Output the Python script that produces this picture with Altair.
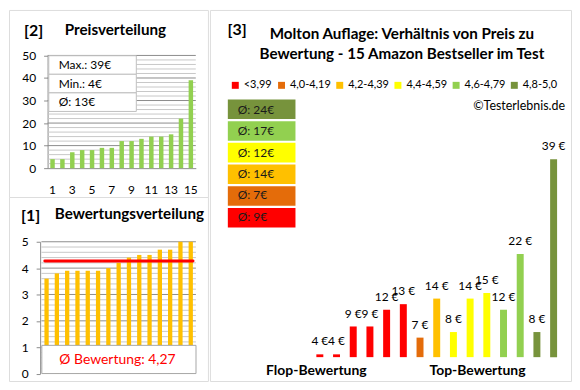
import altair as alt
import pandas as pd
import math

# ---------------- data ----------------
prices = [4, 4, 9, 9, 12, 13, 7, 14, 8, 14, 15, 12, 22, 8, 39]
ratings = [3.6, 3.8, 3.9, 3.9, 3.9, 3.9, 4.0, 4.2, 4.4, 4.5, 4.5, 4.7, 4.7, 5.0, 5.0]
cat_labels = ["<3,99", "4,0-4,19", "4,2-4,39", "4,4-4,59", "4,6-4,79", "4,8-5,0"]
cat_lower = [0.0, 4.0, 4.2, 4.4, 4.6, 4.8]
cat_colors = ["#FF0000", "#E46C0A", "#FFC000", "#FFFF00", "#92D050", "#77933C"]
price_ticks = [0, 10, 20, 30, 40, 50]
price_minor = [v for v in range(0, 51, 2) if v % 10 != 0]
rating_ticks = [0, 1, 2, 3, 4, 5]
rating_minor = [round(i * 0.2, 1) for i in range(26) if i % 5 != 0]
price_x_ticks = [1, 3, 5, 7, 9, 11, 13, 15]
price_base = 3.5

def half_up(v):
    return int(math.floor(v + 0.5))

cats = []
for r in ratings:
    k = max(i for i, lo in enumerate(cat_lower) if r >= lo - 1e-9)
    cats.append(cat_labels[k])

n = len(prices)
idx = list(range(1, n + 1))
df3 = pd.DataFrame({"idx": idx, "price": prices, "cat": cats,
                    "lbl": [f"{p} €" for p in prices]})
df2 = pd.DataFrame({"idx": idx, "price": sorted(prices)})
df1 = pd.DataFrame({"idx": idx, "rating": sorted(ratings)})

avg_txt = []
for c in cat_labels:
    ps = [p for p, cc in zip(prices, cats) if cc == c]
    avg_txt.append(f"Ø: {half_up(sum(ps) / len(ps))}€")
avg_df = pd.DataFrame({"cat": cat_labels, "txt": avg_txt})

stats_df = pd.DataFrame({"row": ["a", "b", "c"],
                         "txt": [f"Max.: {max(prices)}€", f"Min.: {min(prices)}€",
                                 f"Ø: {half_up(sum(prices) / n)}€"]})
mean_rating = sum(ratings) / n
mean_txt = "Ø Bewertung: " + f"{mean_rating:.2f}".replace(".", ",")

# ---------------- style ----------------
FONT = "Lato"
AX = "#8C8C8C"
GMAJ = "#8C8C8C"
GMIN = "#C8C8C8"
W_L, H2, H1, W_R = 200, 188, 185, 363
H3 = H2 + H1
TFS = 15.3


def txt(s, x, y, size=12, weight="normal", align="left", color="#000000"):
    return alt.Chart(pd.DataFrame({"t": [s]})).mark_text(
        align=align, baseline="alphabetic", fontSize=size, fontWeight=weight, color=color
    ).encode(x=alt.value(x), y=alt.value(y), text="t:N")


def grid(values, field, scale, x0, x1, color):
    return alt.Chart(pd.DataFrame({field: values})).mark_rule(color=color, strokeWidth=1).encode(
        y=alt.Y(f"{field}:Q", scale=scale, axis=None), x=alt.value(x0), x2=alt.value(x1))

# ---------------- panel [2] ----------------
X2L, X2R = 38.8, 187.8
sc_y2 = alt.Scale(domain=[0, 50], range=[159, 45.7], nice=False)
x2 = alt.X("idx:O", scale=alt.Scale(range=[X2L, X2R], paddingInner=0, paddingOuter=0),
           axis=alt.Axis(values=price_x_ticks, orient="bottom", offset=159 - H2, labelAngle=0,
                         ticks=False, tickSize=0, labelPadding=21, labelBaseline="middle",
                         labelFontSize=12, labelColor="#000", domainColor=AX, grid=False,
                         title=None, labelOverlap=False))
y2 = alt.Y("price:Q", scale=sc_y2,
           axis=alt.Axis(values=price_ticks, orient="left", offset=-X2L, title=None, grid=False,
                         tickSize=4, tickColor=AX, labelPadding=8, domainColor=AX,
                         labelFontSize=12, labelColor="#000", labelOverlap=False))
bars2 = alt.Chart(df2).mark_bar(size=4.5, color="#92D050").encode(x=x2, y=y2)
stats_y = alt.Y("row:N", sort=None, axis=None,
                scale=alt.Scale(range=[46, 102], paddingInner=0, paddingOuter=0))
box2 = alt.Chart(stats_df).mark_rect(fill="white", stroke="#BFBFBF", strokeWidth=1).encode(
    x=alt.value(40), x2=alt.value(128), y=stats_y)
boxt2 = alt.Chart(stats_df).mark_text(align="left", baseline="middle", fontSize=12,
                                      color="#000").encode(x=alt.value(50), y=stats_y, text="txt:N")
p2 = alt.layer(grid(price_minor, "price", sc_y2, X2L, X2R, GMIN),
               grid(price_ticks[1:], "price", sc_y2, X2L, X2R, GMAJ),
               bars2, box2, boxt2,
               txt("[2]", 15, 26, 16, "bold"),
               txt("Preisverteilung", 56, 25, TFS, "bold")
               ).resolve_scale(y="independent").properties(width=W_L, height=H2)

# ---------------- panel [1] ----------------
X1L, X1R = 32.6, 187.9
sc_y1 = alt.Scale(domain=[0, 5], range=[177.5, 45], nice=False)
x1 = alt.X("idx:O", scale=alt.Scale(range=[X1L, X1R], paddingInner=0, paddingOuter=0), axis=None)
y1 = alt.Y("rating:Q", scale=sc_y1,
           axis=alt.Axis(values=rating_ticks, orient="left", offset=-31.3, title=None, grid=False,
                         tickSize=4, tickColor=AX, labelPadding=8, domainColor=AX,
                         labelFontSize=12, labelColor="#000", labelOverlap=False))
bars1 = alt.Chart(df1).mark_bar(size=4.3, color="#FFC000").encode(x=x1, y=y1)
yq = alt.Y("rating:Q", scale=sc_y1, axis=None)
rule1 = alt.Chart(pd.DataFrame({"rating": [mean_rating]})).mark_rule(
    color="#FF0000", strokeWidth=3, strokeCap="round").encode(
    x=alt.value(36), x2=alt.value(185), y=yq)
box1 = alt.Chart(pd.DataFrame({"rating": [1.07], "r0": [0.0]})).mark_rect(
    fill="white", stroke="#A6A6A6", strokeWidth=1).encode(
    x=alt.value(33), x2=alt.value(188), y=yq, y2="r0:Q")
boxt1 = alt.Chart(pd.DataFrame({"rating": [0.52], "t": [mean_txt]})).mark_text(
    align="center", baseline="middle", fontSize=14, color="#FF0000").encode(
    x=alt.value(109), y=yq, text="t:N")
p1 = alt.layer(grid(rating_minor, "rating", sc_y1, X1L, X1R, GMIN),
               grid(rating_ticks[1:], "rating", sc_y1, X1L, X1R, GMAJ),
               bars1, rule1, box1, boxt1,
               txt("[1]", 12, 24, 16, "bold"),
               txt("Bewertungsverteilung", 46, 22.5, TFS, "bold")
               ).resolve_scale(y="independent").properties(width=W_L, height=H1)

# ---------------- panel [3] ----------------
color_enc = alt.Color("cat:N", scale=alt.Scale(domain=cat_labels, range=cat_colors),
                      legend=alt.Legend(orient="none", legendX=20, legendY=70,
                                        direction="horizontal", title=None,
                                        symbolType="square", symbolSize=49,
                                        symbolStrokeWidth=0, labelFontSize=11,
                                        labelColor="#000", labelOffset=3,
                                        columnPadding=3.5, padding=0))
x3 = alt.X("idx:O", scale=alt.Scale(range=[102.1, 353.9], paddingInner=0, paddingOuter=0), axis=None)
y3 = alt.Y("price:Q", scale=alt.Scale(domain=[price_base, 39], range=[349, 150],
                                      nice=False, zero=False), axis=None)
bars3 = alt.Chart(df3).mark_bar(size=7).encode(x=x3, y=y3, y2=alt.datum(price_base), color=color_enc)
labels3 = alt.Chart(df3).mark_text(baseline="middle", dy=-13, fontSize=12, color="#000").encode(
    x=x3, y=y3, text="lbl:N")
y_cat = alt.Y("cat:N", axis=None,
              scale=alt.Scale(domain=cat_labels[::-1], range=[90, 218.6],
                              paddingInner=0.1, paddingOuter=0))
boxes3 = alt.Chart(avg_df).mark_rect().encode(x=alt.value(18), x2=alt.value(86), y=y_cat,
                                               color=color_enc)
boxt3 = alt.Chart(avg_df).mark_text(align="left", baseline="middle", fontSize=12,
                                    color="#1A1A1A").encode(x=alt.value(28), y=y_cat, text="txt:N")
p3 = alt.layer(bars3, labels3, boxes3, boxt3,
               txt("[3]", 17.7, 25, 16, "bold"),
               txt("Molton Auflage: Verhältnis von Preis zu", 193, 29.5, TFS, "bold", "center"),
               txt("Bewertung - 15 Amazon Bestseller im Test", 193, 49, TFS, "bold", "center"),
               txt("©Testerlebnis.de", 357, 100.7, 12.5, "normal", "right"),
               txt("Flop-Bewertung", 107, 367, 14, "bold", "center"),
               txt("Top-Bewertung", 269, 367, 14, "bold", "center")
               ).resolve_scale(y="independent").properties(width=W_R, height=H3)

left = alt.vconcat(p2, p1, spacing=0, bounds="flush")
chart = alt.hconcat(left, p3, spacing=0).resolve_scale(
    color="independent").resolve_legend(color="independent").properties(
    padding=0, background="white").configure_view(
    stroke="#8C8C8C", strokeWidth=1).configure(font=FONT)

chart.save("out.html", embed_options={"renderer": "svg", "actions": False})
